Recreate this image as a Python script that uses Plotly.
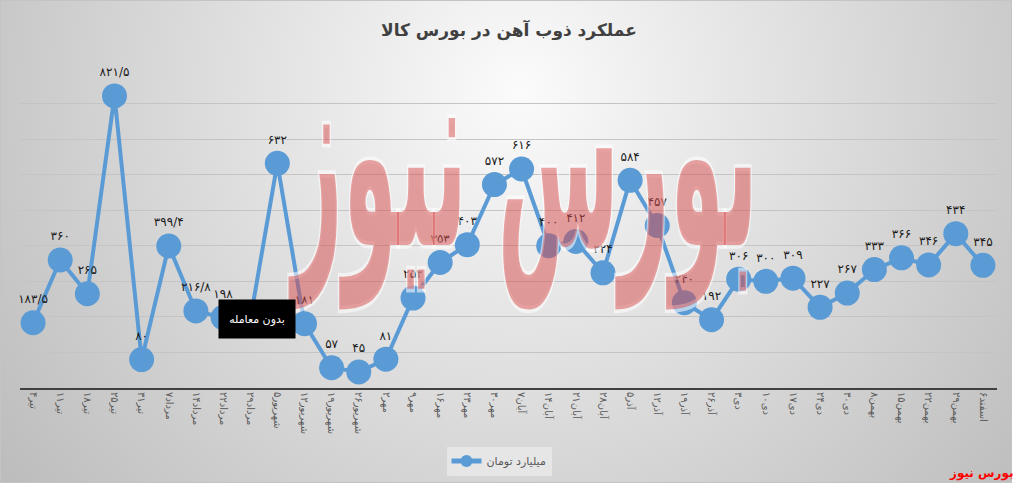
import base64
import plotly.graph_objects as go

# ---------------- data ----------------
categories = ["۴تیر", "۱۱تیر", "۱۸تیر", "۲۵تیر", "۳۱تیر", "۷مرداد", "۱۴مرداد", "۲۲مرداد", "۲۹مرداد",
              "۵شهریور", "۱۲شهریور", "۱۹شهریور", "۲۶شهریور", "۲مهر", "۹مهر", "۱۶مهر", "۲۳مهر", "۳۰مهر",
              "۷آبان", "۱۴آبان", "۲۱آبان", "۲۸آبان", "۵آذر", "۱۲آذر", "۱۹آذر", "۲۶آذر", "۳دی",
              "۱۰دی", "۱۷دی", "۲۴دی", "۳۰دی", "۸بهمن", "۱۵بهمن", "۲۲بهمن", "۲۹بهمن", "۶اسفند"]
values = [183.5, 360, 265, 821.5, 80, 399.4, 216.8, 198, 190,
          632, 181, 57, 45, 81, 253, 353, 403, 572,
          616, 400, 412, 324, 584, 457, 240, 192, 306,
          300, 309, 227, 267, 333, 366, 346, 434, 345]
no_trade_index = 8
no_trade_label = "بدون معامله"
series_name = "میلیارد تومان"
title_text = "عملکرد ذوب آهن در بورس کالا"
brand_text = "بورس نیوز"

FA = str.maketrans("0123456789.", "۰۱۲۳۴۵۶۷۸۹/")


def fa_num(v):
    return ("%g" % v).translate(FA)


labels = ["" if i == no_trade_index else fa_num(v) for i, v in enumerate(values)]

W, H = 1017, 486
FONT = "DejaVu Sans"


def svg_uri(svg):
    return "data:image/svg+xml;base64," + base64.b64encode(svg.encode("utf-8")).decode("ascii")


# background gradient panel (style only)
bg_svg = ('<svg xmlns="http://www.w3.org/2000/svg" width="1012" height="483" viewBox="0 0 1012 483" '
          'preserveAspectRatio="none"><defs><radialGradient id="g" gradientUnits="userSpaceOnUse" '
          'cx="520" cy="90" r="640"><stop offset="0" stop-color="#fbfbfb"/>'
          '<stop offset="1" stop-color="#bdbdbd"/></radialGradient></defs>'
          '<rect x="0.5" y="0.5" width="1011" height="482" fill="url(#g)" stroke="#c4c4c4"/></svg>')

# watermark (style only)
wm_svg = ('<?xml version="1.0" encoding="UTF-8"?>'
          '<svg xmlns="http://www.w3.org/2000/svg" width="500" height="360" viewBox="0 0 500 360">'
          '<g transform="translate(250,210) scale(1,3.0)">'
          '<text x="0" y="0" text-anchor="middle" direction="rtl" font-family="DejaVu Sans" '
          'font-weight="bold" font-size="88" fill="#d84a4a" fill-opacity="0.5" '
          'stroke="#ffffff" stroke-opacity="0.55" stroke-width="2.5" paint-order="stroke">'
          + brand_text + '</text></g></svg>')

fig = go.Figure()
fig.add_trace(go.Scatter(
    x=categories, y=values, name=series_name,
    mode="lines+markers+text",
    line=dict(color="#5b9bd5", width=4),
    marker=dict(color="#5b9bd5", size=25),
    text=labels, textposition="top center",
    textfont=dict(family=FONT, size=12, color="#1a1a1a"),
    cliponaxis=False, hoverinfo="skip",
))

fig.update_layout(
    width=W, height=H,
    margin=dict(l=0, r=0, t=0, b=0),
    paper_bgcolor="white", plot_bgcolor="rgba(0,0,0,0)",
    font=dict(family=FONT, color="#595959"),
    showlegend=True,
    legend=dict(x=499 / W, y=(H - 461) / H, xanchor="center", yanchor="middle", orientation="h",
                bgcolor="#e6e6e6", font=dict(size=11, color="#595959"), itemsizing="constant"),
    xaxis=dict(domain=[19.5 / W, 996.5 / W], type="category", range=[-0.5, len(categories) - 0.5],
               showgrid=False, showline=True, linecolor="#404040", linewidth=2,
               ticks="", tickangle=90, tickfont=dict(size=10, color="#595959"), automargin=False),
    yaxis=dict(domain=[(H - 388) / H, (H - 68) / H], range=[0, 900], dtick=100,
               showgrid=True, gridcolor="#c4c4c4", gridwidth=1, zeroline=False,
               showline=False, showticklabels=False, ticks="", automargin=False),
    images=[
        dict(source=svg_uri(bg_svg), xref="paper", yref="paper", x=0, y=1,
             sizex=1012 / W, sizey=483 / H, xanchor="left", yanchor="top",
             sizing="stretch", layer="below"),
        dict(source=svg_uri(wm_svg), xref="paper", yref="paper", x=275 / W, y=(H - 35) / H,
             sizex=500 / W, sizey=360 / H, xanchor="left", yanchor="top",
             sizing="stretch", layer="above"),
    ],
)

fig.add_annotation(text="<b>" + title_text + "</b>", xref="paper", yref="paper",
                   x=509 / W, y=(H - 30) / H, xanchor="center", yanchor="middle", showarrow=False,
                   font=dict(family=FONT, size=17, color="#404040"))

# no-trade label box
fig.add_annotation(text=no_trade_label, x=categories[no_trade_index], y=values[no_trade_index],
                   xref="x", yref="y", showarrow=False, xshift=7, yshift=1,
                   bgcolor="black", width=70, height=32, borderpad=3,
                   font=dict(family=FONT, size=11, color="white"))

fig.add_annotation(text="<b>" + brand_text + "</b>", xref="paper", yref="paper",
                   x=1016 / W, y=(H - 473) / H, xanchor="right", yanchor="middle", showarrow=False,
                   font=dict(family=FONT, size=12, color="#ff0000"))

fig.write_html("out.html", config={"displayModeBar": False},
               post_script="document.body.style.margin='0';")
